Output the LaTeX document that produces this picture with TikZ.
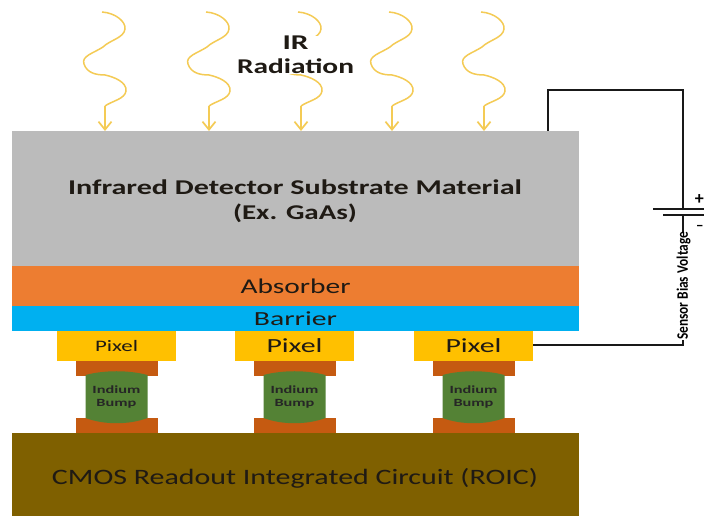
\documentclass[tikz,border=0pt]{standalone}
\usepackage{fontspec}
\usepackage{graphicx}
\setmainfont{Carlito}
\usetikzlibrary{arrows.meta}
\definecolor{gsub}{HTML}{BBBBBB}
\definecolor{absb}{HTML}{ED7D31}
\definecolor{barr}{HTML}{00B0F0}
\definecolor{pix}{HTML}{FFC000}
\definecolor{padc}{HTML}{C55A11}
\definecolor{indi}{HTML}{548235}
\definecolor{roic}{HTML}{7F6000}
\definecolor{ray}{HTML}{F4CB55}
\definecolor{txt}{HTML}{1F1A14}
\newcommand{\wfit}[2]{\resizebox{#1pt}{\height}{#2}}
\tikzset{
  layer/.style={draw=none,inner sep=0pt,outer sep=0pt,minimum width=567pt,text=txt,align=center},
  pixelbox/.style={fill=pix,draw=none,inner sep=0pt,outer sep=0pt,minimum width=119pt,minimum height=30pt,text=txt},
  padbox/.style={fill=padc,draw=none,inner sep=0pt,outer sep=0pt,minimum width=82pt,minimum height=15pt},
  bumptext/.style={inner sep=0pt,align=center,text=black!85,font=\fontsize{11}{13.5}\selectfont\bfseries},
  wire/.style={draw=black!90,line width=1.3pt},
  wave/.style={draw=ray,line width=1.5pt},
  raydown/.style={draw=ray,line width=1.7pt,-{Straight Barb[length=8pt,width=13pt,line width=1.7pt]}},
}
\newcommand{\irray}[2]{%
  \coordinate (t#1) at (#2+3,410);
  \draw[wave] (#2,504) .. controls (#2+14,503) and (#2+24,494) .. (#2+23,487)
     .. controls (#2+22,478) and (#2+8,476) .. (#2+1,469)
     .. controls (#2-8,463) and (#2-21,460) .. (#2-18,452)
     .. controls (#2-15,443) and (#2-6,441) .. (#2+3,441)
     .. controls (#2+12,439) and (#2+25,434) .. (#2+24,425)
     .. controls (#2+23,417) and (#2+10,415) .. (t#1);
  \coordinate (h#1) at (#2+3,385);
  \draw[raydown] (t#1) -- (h#1);
}
\newcommand{\bump}[4]{%
  \node[pixelbox,font=\fontsize{#3}{18}\selectfont] (p#1) at (#2,170) {\wfit{#4}{Pixel}};
  \node[padbox] (a#1) at (#2,147.5) {};
  \node[padbox] (b#1) at (#2,90.5) {};
  \fill[indi] (#2-31,141) .. controls (#2-12,146) and (#2+12,146) .. (#2+31,141)
     -- (#2+31,98) .. controls (#2+12,91) and (#2-12,91) .. (#2-31,98) -- cycle;
  \node[bumptext] (i#1) at (#2,119) {\wfit{48}{Indium}\\\wfit{40}{Bump}};
}
\begin{document}
\begin{tikzpicture}[x=1pt,y=1pt]
\useasboundingbox (0,0) rectangle (704,516);
\fill[white] (0,0) rectangle (704,516);
\node[layer,fill=gsub,minimum height=135pt] (sub) at (295.5,317.5) {};
\node[inner sep=0pt,align=center,text=txt,font=\fontsize{21}{25}\selectfont\bfseries] (subt) at (295,314.5) {\wfit{454}{Infrared Detector Substrate Material}\\\wfit{124}{(Ex. GaAs)}};
\node[layer,fill=absb,minimum height=40pt,font=\fontsize{21}{24}\selectfont] (abs) at (295.5,230) {\wfit{110}{Absorber}};
\node[layer,fill=barr,minimum height=25pt,font=\fontsize{20}{22}\selectfont] (bar) at (295.5,197.5) {\wfit{83}{Barrier}};
\node[layer,fill=roic,minimum height=83pt] (cmos) at (295.5,41.5) {};
\node[inner sep=0pt,text=txt,font=\fontsize{22}{24}\selectfont] (cmost) at (295,38) {\wfit{486}{CMOS Readout Integrated Circuit (ROIC)}};
\bump{1}{116.5}{16}{43}
\bump{2}{294.5}{20}{56}
\bump{3}{473.5}{20}{56}
\irray{1}{102}
\irray{2}{206}
\irray{3}{298}
\irray{4}{389}
\irray{5}{481}
\node[font=\fontsize{21}{24}\selectfont\bfseries,align=center,text=txt,inner sep=0pt,fill=white] (ir) at (295.5,461) {\wfit{26}{IR}\\\wfit{117}{Radiation}};
% circuit
\coordinate (top) at (548,385);
\coordinate (c1) at (548,426);
\coordinate (c2) at (683,426);
\coordinate (k1) at (683,307);
\coordinate (k2) at (683,301);
\coordinate (c3) at (683,171);
\coordinate (pl1) at (653,307);
\coordinate (pr1) at (704,307);
\coordinate (pl2) at (663,301);
\coordinate (pr2) at (704,301);
\draw[wire,line width=2pt] (top) -- (c1) -- (c2) -- (k1);
\draw[wire,line width=1.5pt] (k2) -- (c3) -- (p3.east |- c3);
\draw[wire,line width=1.3pt] (pl1) -- (pr1);
\draw[wire,line width=2.8pt] (pl2) -- (pr2);
\node[inner sep=0pt,anchor=east,font=\bfseries\fontsize{18}{18}\selectfont] (plus) at (704,316) {+};
\node[inner sep=0pt,anchor=east,font=\bfseries\fontsize{14}{14}\selectfont] (minus) at (703.5,288) {\textminus};
\node[rotate=90,inner sep=0pt,fill=white,font=\bfseries\fontsize{16}{16}\selectfont] (sbv) at (683.5,230) {\wfit{108}{Sensor Bias Voltage}};
\end{tikzpicture}
\end{document}
